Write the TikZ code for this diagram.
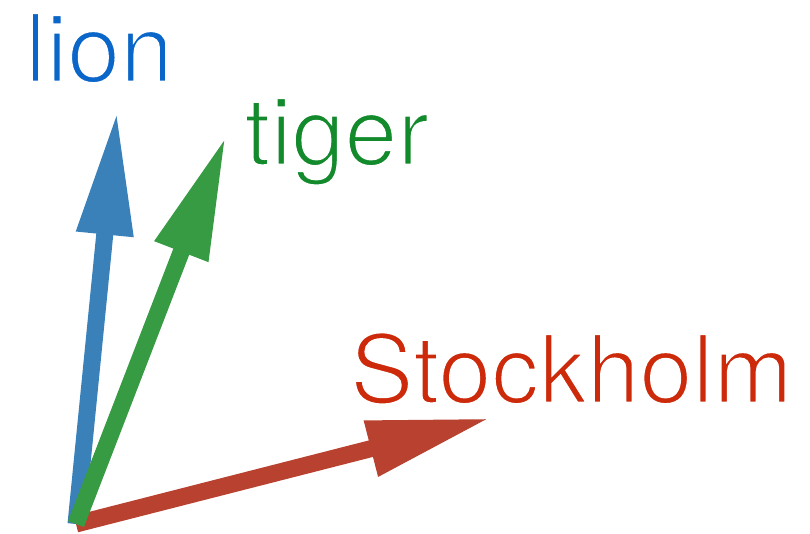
\documentclass[tikz,border=0pt]{standalone}
\usepackage{fontspec}
\setmainfont{TeX Gyre Heros}
\usetikzlibrary{arrows.meta}
\definecolor{lionText}{HTML}{0A66C8}
\definecolor{lionArrow}{HTML}{3A80B9}
\definecolor{tigerText}{HTML}{138A2C}
\definecolor{tigerArrow}{HTML}{379B43}
\definecolor{stockText}{HTML}{CC2A0A}
\definecolor{stockArrow}{HTML}{B8412F}
\newcommand{\thinword}[1]{\special{pdf:code 2 Tr 2.6 w 1 1 1 RG}#1\special{pdf:code 0 Tr}}
\begin{document}
\begin{tikzpicture}[x=1pt,y=-1pt,
  vec/.style={line width=17pt, line cap=butt, -{Triangle[length=124pt,width=53pt]}},
  word/.style={inner sep=0pt, anchor=base west, font=\fontsize{95}{95}\selectfont}]
\useasboundingbox (0,0) rectangle (810,533);
\coordinate (O) at (76,524);
\coordinate (tl) at (117,111);
\coordinate (tt) at (226,136);
\coordinate (ts) at (491,418);
\draw[vec, stockArrow] (O) -- (ts);
\draw[vec, lionArrow] (O) -- (tl);
\draw[vec, tigerArrow] (O) -- (tt);
\node[word, text=lionText] (lion) at (25,82) {\thinword{lion}};
\node[word, text=tigerText] (tiger) at (244,165) {\thinword{tiger}};
\node[word, text=stockText] (stockholm) at (350,403) {\thinword{Stockholm}};
\end{tikzpicture}
\end{document}
